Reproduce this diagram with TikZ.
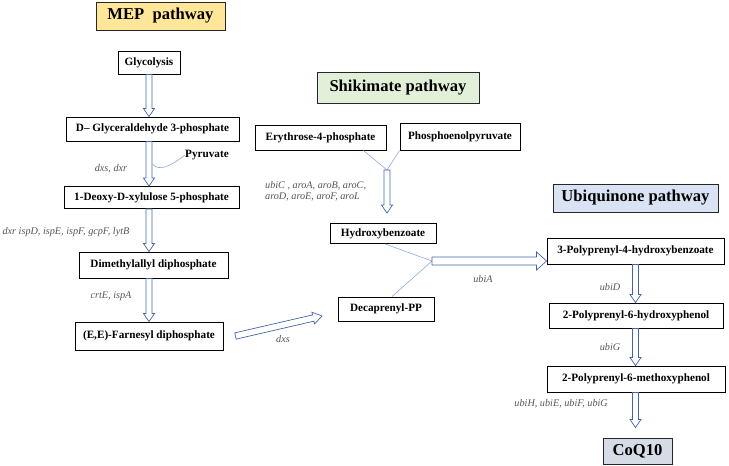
\documentclass[tikz,border=0pt]{standalone}
\usepackage{fontspec}
\setmainfont{Liberation Serif}
\usetikzlibrary{calc}
\definecolor{arrowblue}{RGB}{68,100,170}
\definecolor{lineblue}{RGB}{143,170,220}
\definecolor{mepfill}{RGB}{255,230,153}
\definecolor{shikfill}{RGB}{226,240,217}
\definecolor{ubqfill}{RGB}{218,227,243}
\definecolor{coqfill}{RGB}{214,220,229}
\definecolor{genegray}{RGB}{85,85,85}
\tikzset{
 box/.style={draw=black, line width=0.9pt, fill=white, font=\fontsize{11.2}{13}\selectfont\bfseries, inner sep=0pt},
 titlebox/.style={draw=black!85, line width=1pt, font=\fontsize{16.6}{19}\selectfont\bfseries, inner sep=0pt},
 gene/.style={font=\fontsize{10.2}{11}\selectfont\itshape, text=genegray, inner sep=0pt},
 blkstyle/.style={draw=arrowblue, fill=white, line width=0.7pt, line join=miter},
 thinline/.style={draw=lineblue, line width=0.6pt},
}
% block arrow: from, to, shaft half width, head half width, head length
\newcommand\blk[5]{%
 \draw[blkstyle] ($(#1)!#3!90:(#2)$) -- ($(#2)!#5!(#1)!#3!-90:(#1)$) -- ($(#2)!#5!(#1)!#4!-90:(#1)$) -- (#2) -- ($(#2)!#5!(#1)!#4!90:(#1)$) -- ($(#2)!#5!(#1)!#3!90:(#1)$) -- ($(#1)!#3!-90:(#2)$) -- cycle;}
\begin{document}
\begin{tikzpicture}[x=1pt,y=-1pt]
\useasboundingbox (0,0) rectangle (729,466);
% ---- MEP pathway ----
\node[titlebox, fill=mepfill, minimum width=129pt, minimum height=28pt] (mep) at (160.5,16) {MEP\enspace pathway};
\node[box, minimum width=62pt, minimum height=23pt] (glyc) at (149,62.5) {Glycolysis};
\node[box, minimum width=173pt, minimum height=24pt] (gap) at (152.5,129) {D– Glyceraldehyde 3-phosphate};
\node[box, minimum width=175pt, minimum height=22pt] (dxp) at (151.5,197.5) {1-Deoxy-D-xylulose 5-phosphate};
\node[box, minimum width=149pt, minimum height=26pt] (dmapp) at (153.5,265) {Dimethylallyl diphosphate};
\node[box, minimum width=148pt, minimum height=28pt] (fpp) at (149,336) {(E,E)-Farnesyl diphosphate};
\node[font=\fontsize{11.2}{13}\selectfont\bfseries, inner sep=0pt] (pyr) at (207,155) {Pyruvate};

\coordinate (t1) at (glyc.south |- gap.north);
\coordinate (s2) at (glyc.south |- gap.south);
\coordinate (t2) at (glyc.south |- dxp.north);
\coordinate (s3) at (glyc.south |- dxp.south);
\coordinate (t3) at (glyc.south |- dmapp.north);
\coordinate (s4) at (glyc.south |- dmapp.south);
\coordinate (t4) at (glyc.south |- fpp.north);
\blk{glyc.south}{t1}{3pt}{5.5pt}{8pt}
\blk{s2}{t2}{3pt}{5.5pt}{8pt}
\blk{s3}{t3}{3pt}{5.5pt}{8pt}
\blk{s4}{t4}{3pt}{5.5pt}{8pt}
\coordinate (pc) at (152.5,164);
\draw[thinline] (pc) .. controls (159,172) and (171,166) .. (pyr.west);

\node[gene] (g1) at (111,169) {dxs, dxr};
\node[gene] (g2) at (66,232) {dxr ispD, ispE, ispF, gcpF, lytB};
\node[gene] (g3) at (111,296) {crtE, ispA};
\node[gene] (g4) at (283,339) {dxs};

\coordinate (d1) at ($(fpp.east)+(12,0)$);
\coordinate (d2) at (322,316);
\blk{d1}{d2}{3.2pt}{6pt}{9pt}

% ---- Shikimate pathway ----
\node[titlebox, fill=shikfill, minimum width=162pt, minimum height=31pt] (shik) at (398,87.5) {Shikimate pathway};
\node[box, minimum width=131pt, minimum height=25pt] (e4p) at (320.5,137.5) {Erythrose-4-phosphate};
\node[box, minimum width=120pt, minimum height=27pt] (pep) at (460,136.5) {Phosphoenolpyruvate};
\node[box, minimum width=106pt, minimum height=20pt] (hb) at (383,233.5) {Hydroxybenzoate};
\node[box, minimum width=96pt, minimum height=24pt] (dpp) at (386,309) {Decaprenyl-PP};

\coordinate (j1) at (387,170);
\draw[thinline] ($(e4p.south east)+(-23,0)$) -- (j1);
\draw[thinline] (pep.south west) -- (j1);
\coordinate (hbn) at (j1 |- hb.north);
\coordinate (t5) at ($(hbn)+(0,-10)$);
\blk{j1}{t5}{3pt}{5.5pt}{8pt}
\node[gene, anchor=west, align=left] (g5) at (265,191.5) {ubiC , aroA, aroB, aroC,\\aroD, aroE, aroF, aroL};

\coordinate (j2) at (432,261);
\draw[thinline] ($(hb.south)+(2,0)$) -- (j2);
\draw[thinline] ($(dpp.north)+(6,0)$) -- (j2);

% ---- Ubiquinone pathway ----
\node[titlebox, fill=ubqfill, minimum width=165pt, minimum height=28pt] (ubq) at (635.5,198) {Ubiquinone pathway};
\node[box, minimum width=177pt, minimum height=26pt] (pphb) at (635.5,251) {3-Polyprenyl-4-hydroxybenzoate};
\node[box, minimum width=174pt, minimum height=25pt] (pphp) at (636,315.5) {2-Polyprenyl-6-hydroxyphenol};
\node[box, minimum width=178pt, minimum height=26pt] (ppmp) at (636,379) {2-Polyprenyl-6-methoxyphenol};
\node[titlebox, fill=coqfill, minimum width=69pt, minimum height=26pt] (coq) at (637.5,451) {CoQ10};

\coordinate (t6) at (j2 -| pphb.west);
\blk{j2}{t6}{4pt}{9pt}{10pt}
\node[gene] (g6) at (483,279) {ubiA};

\coordinate (t7) at (pphb.south |- pphp.north);
\coordinate (s8) at (pphb.south |- pphp.south);
\coordinate (t8) at (pphb.south |- ppmp.north);
\coordinate (s9) at (pphb.south |- ppmp.south);
\coordinate (cqn) at (pphb.south |- coq.north);
\coordinate (t9) at ($(cqn)+(0,-10)$);
\blk{pphb.south}{t7}{3pt}{5.5pt}{8pt}
\blk{s8}{t8}{3pt}{5.5pt}{8pt}
\blk{s9}{t9}{3pt}{5.5pt}{8pt}

\node[gene] (g7) at (610,287) {ubiD};
\node[gene] (g8) at (610,347) {ubiG};
\node[gene, anchor=east] (g9) at (608,404) {ubiH, ubiE, ubiF, ubiG};
\end{tikzpicture}
\end{document}
